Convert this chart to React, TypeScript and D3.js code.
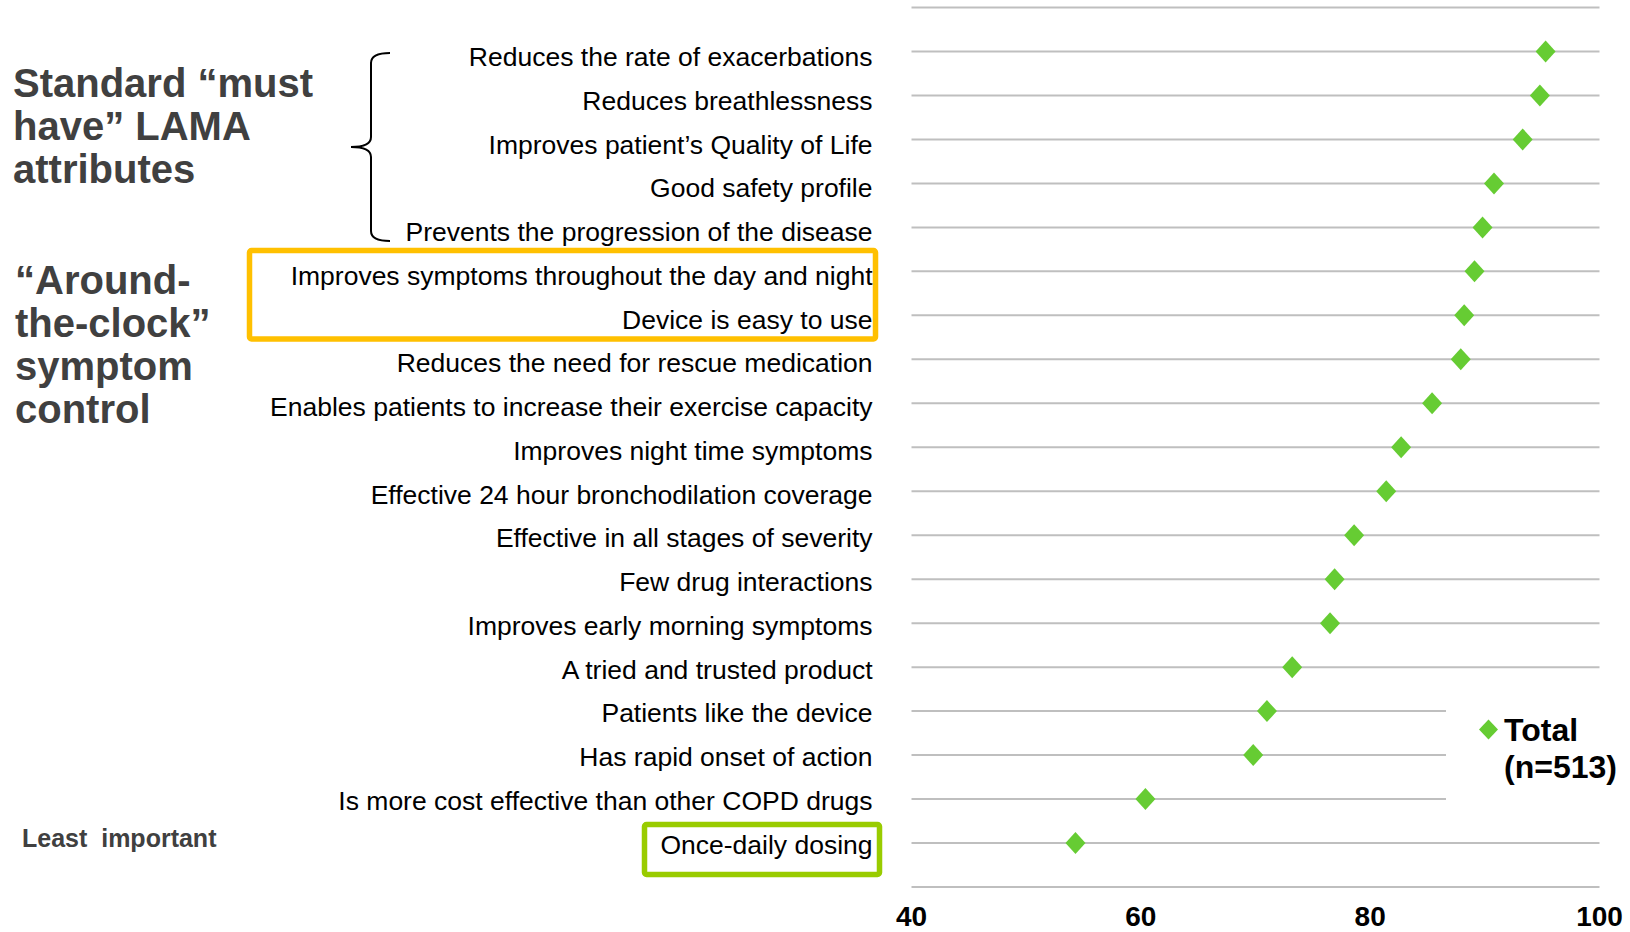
import React from "react";
import * as d3 from "d3";

const categories: string[] = [
  "Reduces the rate of exacerbations",
  "Reduces breathlessness",
  "Improves patient\u2019s Quality of Life",
  "Good safety profile",
  "Prevents the progression of the disease",
  "Improves symptoms throughout the day and night",
  "Device is easy to use",
  "Reduces the need for rescue medication",
  "Enables patients to increase their exercise capacity",
  "Improves night time symptoms",
  "Effective 24 hour bronchodilation coverage",
  "Effective in all stages of severity",
  "Few drug interactions",
  "Improves early morning symptoms",
  "A tried and trusted product",
  "Patients like the device",
  "Has rapid onset of action",
  "Is more cost effective than other COPD drugs",
  "Once-daily dosing",
];

const totalValues: number[] = [
  95.3, 94.8, 93.3, 90.8, 89.8, 89.1, 88.2, 87.9, 85.4, 82.7, 81.4, 78.6, 76.9,
  76.5, 73.2, 71.0, 69.8, 60.4, 54.3,
];

const xTicks: number[] = [40, 60, 80, 100];
const gridSteps: number[] = d3.range(0, 21);

const standardTitle: string[] = ["Standard \u201cmust", "have\u201d LAMA", "attributes"];
const clockTitle: string[] = ["\u201cAround-", "the-clock\u201d", "symptom", "control"];
const legendLines: string[] = ["Total", "(n=513)"];

const FONT = "'Liberation Sans', Arial, Helvetica, sans-serif";
const GREEN = "#66cc33";

export default function App() {
  const W = 1630;
  const H = 932;
  const x = d3.scaleLinear().domain([40, 100]).range([911.5, 1599.5]);
  const y = d3.scaleLinear().domain([0, 20]).range([7.5, 887]);
  // label baselines (text boxes are spaced slightly differently than grid)
  const labelY = d3
    .scaleLinear()
    .domain([0, categories.length - 1])
    .range([66, 853.5]);

  const diamond = (cx: number, cy: number, hw: number, hh: number) =>
    `M${cx},${cy - hh}L${cx + hw},${cy}L${cx},${cy + hh}L${cx - hw},${cy}Z`;

  const bracePath = (() => {
    const p = d3.path();
    p.moveTo(390, 53);
    p.quadraticCurveTo(371, 53, 371, 63);
    p.lineTo(371, 137);
    p.quadraticCurveTo(371, 147, 351, 147);
    p.quadraticCurveTo(371, 147, 371, 157);
    p.lineTo(371, 231);
    p.quadraticCurveTo(371, 241, 390, 241);
    return p.toString();
  })();

  return (
    <svg
      width={W}
      height={H}
      viewBox={`0 0 ${W} ${H}`}
      style={{ position: "absolute", left: 0, top: 0, display: "block", background: "#fff" }}
      fontFamily={FONT}
    >
      <rect x={0} y={0} width={W} height={H} fill="#fff" />

      {/* gridlines */}
      <g>
        {gridSteps.map((k) => (
          <line
            key={k}
            x1={x(40)}
            x2={x(100)}
            y1={y(k)}
            y2={y(k)}
            stroke="#bfbfbf"
            strokeWidth={2}
          />
        ))}
      </g>

      {/* legend background covering gridlines */}
      <rect x={1446} y={690} width={184} height={125} fill="#fff" />

      {/* points */}
      <g>
        {totalValues.map((v, i) => (
          <path key={i} d={diamond(x(v), y(i + 1), 10, 11)} fill={GREEN} />
        ))}
      </g>

      {/* x tick labels */}
      <g>
        {xTicks.map((t) => (
          <text
            key={t}
            x={x(t)}
            y={926}
            textAnchor="middle"
            fontSize={28}
            fontWeight="bold"
            fill="#000"
          >
            {t}
          </text>
        ))}
      </g>

      {/* category labels */}
      <g>
        {categories.map((c, i) => (
          <text key={c} x={872.5} y={labelY(i)} textAnchor="end" fontSize={26.5} fill="#000">
            {c}
          </text>
        ))}
      </g>

      {/* highlight boxes */}
      <rect x={249.5} y={250.5} width={626} height={88.5} rx={2} fill="none" stroke="#ffc000" strokeWidth={5.5} />
      <rect x={644.5} y={824.5} width={235} height={50} rx={2} fill="none" stroke="#99cc00" strokeWidth={5.5} />

      {/* brace */}
      <path d={bracePath} fill="none" stroke="#000" strokeWidth={2} />

      {/* left titles */}
      <g fill="#404040" fontWeight="bold" fontSize={40}>
        {standardTitle.map((s, i) => (
          <text key={s} x={13} y={96.5 + i * 43}>
            {s}
          </text>
        ))}
        {clockTitle.map((s, i) => (
          <text key={s} x={15} y={294 + i * 43}>
            {s}
          </text>
        ))}
      </g>
      <text x={22} y={847} fill="#404040" fontWeight="bold" fontSize={25} xmlSpace="preserve">
        {"Least  important"}
      </text>

      {/* legend */}
      <path d={diamond(1488.5, 729.5, 9.5, 10)} fill={GREEN} />
      <g fontWeight="bold" fontSize={32} fill="#000">
        {legendLines.map((s, i) => (
          <text key={s} x={1504} y={741 + i * 37}>
            {s}
          </text>
        ))}
      </g>
    </svg>
  );
}
